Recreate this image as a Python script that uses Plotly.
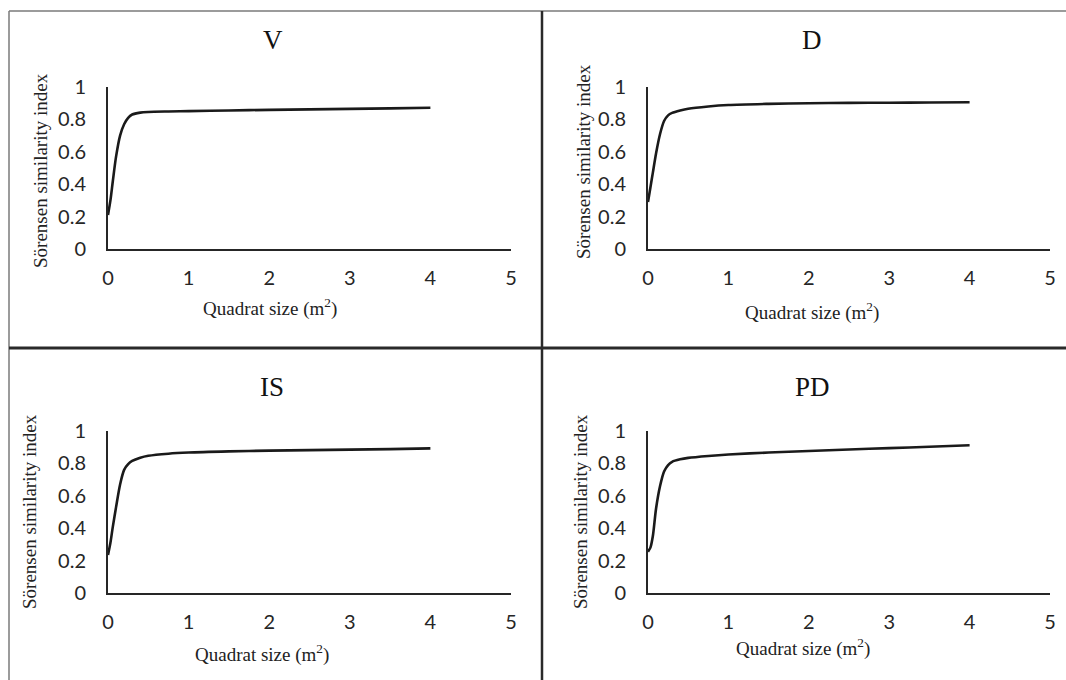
import plotly.graph_objects as go

W, H = 1066, 680

# ---- data ----
panel_titles = ["V", "D", "IS", "PD"]
quadrat_size = [0, 0.03, 0.06, 0.1, 0.15, 0.2, 0.25, 0.3, 0.4, 0.5, 0.75, 1, 1.5, 2, 2.5, 3, 3.5, 4]
sim_V = [0.21, 0.30, 0.42, 0.57, 0.70, 0.77, 0.81, 0.83, 0.842, 0.846, 0.849, 0.851, 0.855, 0.859, 0.862, 0.865, 0.868, 0.872]
sim_D = [0.29, 0.38, 0.47, 0.59, 0.71, 0.79, 0.825, 0.84, 0.855, 0.866, 0.88, 0.889, 0.896, 0.9, 0.902, 0.903, 0.904, 0.906]
sim_IS = [0.235, 0.31, 0.41, 0.53, 0.67, 0.76, 0.795, 0.815, 0.835, 0.847, 0.86, 0.867, 0.874, 0.879, 0.882, 0.885, 0.888, 0.893]
sim_PD = [0.255, 0.28, 0.35, 0.52, 0.66, 0.75, 0.79, 0.81, 0.825, 0.834, 0.846, 0.855, 0.867, 0.877, 0.886, 0.894, 0.903, 0.912]
x_ticks = [0, 1, 2, 3, 4, 5]
x_tick_text = ["0", "1", "2", "3", "4", "5"]
y_ticks = [0, 0.2, 0.4, 0.6, 0.8, 1]
y_tick_text = ["0", "0.2", "0.4", "0.6", "0.8", "1"]
series = [sim_V, sim_D, sim_IS, sim_PD]
y_title = "Sörensen similarity index"
x_title = "Quadrat size (m<sup>2</sup>)"

# ---- layout geometry (pixels) ----
areas = [(108, 511, 249, 87), (648, 1050, 249, 87), (108, 511, 593, 431), (648, 1050, 593, 431)]
title_pos = [(273, 40), (812, 40), (272, 387), (812, 387)]
ytitle_pos = [(40, 171), (583, 162), (29, 512), (580, 512)]
xtitle_pos = [(270, 308), (812, 312), (262, 653), (803, 647)]

def px(x):
    return x / W

def py(y):
    return 1 - y / H

fig = go.Figure()
tick_font = dict(family="Lato, 'Open Sans', sans-serif", size=20, color="#262626")
serif = "'Liberation Serif', 'Times New Roman', serif"

for i, ys in enumerate(series):
    n = "" if i == 0 else str(i + 1)
    fig.add_trace(go.Scatter(
        x=quadrat_size, y=ys, mode="lines",
        line=dict(color="#1a1a1a", width=2.6, shape="spline", smoothing=0.8),
        xaxis="x" + n, yaxis="y" + n, showlegend=False, hoverinfo="skip",
    ))
    x0, x5, y0, y1 = areas[i]
    fig.layout["xaxis" + n] = dict(
        domain=[px(x0), px(x5)], range=[0, 5], anchor="y" + n,
        tickvals=x_ticks, ticktext=x_tick_text, tickfont=tick_font,
        showline=True, linecolor="#262626", linewidth=2,
        showgrid=False, zeroline=False, ticks="", ticklabelstandoff=10,
    )
    fig.layout["yaxis" + n] = dict(
        domain=[py(y0), py(y1)], range=[0, 1], anchor="x" + n,
        tickvals=y_ticks, ticktext=y_tick_text, tickfont=tick_font,
        showline=True, linecolor="#262626", linewidth=2,
        showgrid=False, zeroline=False, ticks="", ticklabelstandoff=16,
    )
    tx, ty = title_pos[i]
    fig.add_annotation(x=px(tx), y=py(ty), xref="paper", yref="paper", text=panel_titles[i],
                       showarrow=False, font=dict(family=serif, size=27, color="#111"),
                       xanchor="center", yanchor="middle")
    ax, ay = ytitle_pos[i]
    fig.add_annotation(x=px(ax), y=py(ay), xref="paper", yref="paper", text=y_title,
                       showarrow=False, textangle=-90,
                       font=dict(family=serif, size=19, color="#222"),
                       xanchor="center", yanchor="middle")
    bx, by = xtitle_pos[i]
    fig.add_annotation(x=px(bx), y=py(by), xref="paper", yref="paper", text=x_title,
                       showarrow=False, font=dict(family=serif, size=19, color="#222"),
                       xanchor="center", yanchor="middle")

# frame lines
shapes = [
    dict(type="line", xref="paper", yref="paper", x0=px(9), x1=1, y0=py(11), y1=py(11),
         line=dict(color="#7a7a7a", width=1.5)),
    dict(type="line", xref="paper", yref="paper", x0=px(9), x1=px(9), y0=py(11), y1=0,
         line=dict(color="#7a7a7a", width=1.5)),
    dict(type="line", xref="paper", yref="paper", x0=px(542), x1=px(542), y0=py(11), y1=0,
         line=dict(color="#2a2a2a", width=2.5)),
    dict(type="line", xref="paper", yref="paper", x0=px(9), x1=1, y0=py(348), y1=py(348),
         line=dict(color="#2a2a2a", width=3)),
]
fig.update_layout(
    width=W, height=H, margin=dict(l=0, r=0, t=0, b=0, pad=0, autoexpand=False),
    paper_bgcolor="white", plot_bgcolor="white", shapes=shapes,
)

fig.write_html(
    "out.html",
    config={"displayModeBar": False},
    post_script="document.body.style.margin='0';document.body.style.overflow='hidden';",
)
